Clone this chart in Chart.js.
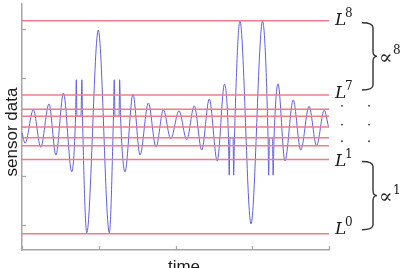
<!DOCTYPE html>
<html>
<head>
<meta charset="utf-8">
<script src="https://cdn.jsdelivr.net/npm/chart.js@4/dist/chart.umd.min.js"></script>
<style>
  html, body { margin: 0; padding: 0; background: #fff; }
  #wrap { width: 415px; height: 268px; overflow: hidden; }
</style>
</head>
<body>
<div id="wrap"><canvas id="chart" width="415" height="268"></canvas></div>
<script>
// signal: peaks, troughs and the clipped spikes
const sigT = [0, 0.20, 0.74, 1.22, 1.76, 2.21, 2.70, 3.24, 3.49, 3.54, 3.58, 3.84, 3.90, 3.94,
    4.22, 4.97, 5.69, 5.96, 6.01, 6.06, 6.32, 6.36, 6.42, 6.71, 7.23, 7.69, 8.23, 8.73,
    9.21, 9.69, 10.23, 10.73, 11.22, 11.71, 12.20, 12.72, 13.19, 13.45, 13.50, 13.55, 13.75,
    13.79, 13.84, 14.20, 14.92, 15.67, 16.03, 16.07, 16.12, 16.32, 16.36, 16.42, 16.68,
    17.13, 17.67, 18.16, 18.70, 19.19, 19.69, 19.97];
const sigV = [-0.12, -0.33, 0.35, -0.41, 0.47, -0.57, 0.69, -0.91, 0.22, 0.96, 0.22, 0.22, 0.96, 0.22,
    -2.15, 1.97, -2.15, 0.22, 0.96, 0.22, 0.22, 0.96, 0.22, -0.91, 0.67, -0.57, 0.49, -0.41,
    0.35, -0.24, 0.33, -0.26, 0.43, -0.47, 0.57, -0.69, 0.87, -0.22, -0.98, -0.22, -0.22,
    -0.98, -0.22, 2.15, -1.97, 2.15, -0.22, -0.98, -0.22, -0.22, -0.98, -0.22, 0.88,
    -0.69, 0.55, -0.47, 0.42, -0.38, 0.34, 0];

// quantisation levels L0 .. L8
const levels = [-2.17, -0.66, -0.38, -0.22, 0, 0.22, 0.36, 0.65, 2.16];

const xTicks = [0, 5, 10, 15, 20];
const yTicks = [-2, -1, 0, 1, 2];
const xLabel = 'time';
const yLabel = 'sensor data';

const axisGrey = '#a6a6a6';
const levelRed = '#ea7f8a';
const sigBlue = '#5f5fe4';

const datasets = levels.map(l => ({
    data: [{ x: xTicks[0], y: l }, { x: xTicks[xTicks.length - 1], y: l }],
    borderColor: levelRed,
    borderWidth: 1.4,
    pointRadius: 0,
    order: 1
}));
datasets.push({
    data: sigT.map((t, i) => ({ x: t, y: sigV[i] })),
    borderColor: sigBlue,
    borderWidth: 1,
    pointRadius: 0,
    cubicInterpolationMode: 'monotone',
    order: 2
});

// inward tick marks, labels, L^k names, braces
const decorations = {
    id: 'decorations',
    afterDraw(chart) {
        const ctx = chart.ctx;
        const xs = chart.scales.x, ys = chart.scales.y;
        const area = chart.chartArea;
        ctx.save();

        ctx.strokeStyle = axisGrey;
        ctx.lineWidth = 1.2;
        xTicks.forEach(t => {
            const px = Math.round(xs.getPixelForValue(t)) + 0.5;
            ctx.beginPath();
            ctx.moveTo(px, area.bottom);
            ctx.lineTo(px, area.bottom - 4);
            ctx.stroke();
        });
        yTicks.forEach(v => {
            const py = Math.round(ys.getPixelForValue(v)) + 0.5;
            ctx.beginPath();
            ctx.moveTo(area.left, py);
            ctx.lineTo(area.left + 4, py);
            ctx.stroke();
        });

        // axis titles
        ctx.fillStyle = '#1a1a1a';
        ctx.font = '17px "Liberation Sans", Arial, sans-serif';
        ctx.textAlign = 'center';
        ctx.textBaseline = 'alphabetic';
        ctx.fillText(xLabel, 184, 272);
        ctx.save();
        ctx.translate(17, (area.top + area.bottom) / 2 + 5);
        ctx.rotate(-Math.PI / 2);
        ctx.fillText(yLabel, 0, 0);
        ctx.restore();

        // level names
        const lx = area.right + 6;
        const named = [[8, 4], [7, 3], [1, 6.5], [0, 0]];
        ctx.textAlign = 'left';
        named.forEach(([k, dy]) => {
            const base = ys.getPixelForValue(levels[k]) + dy;
            ctx.font = 'italic 17px "DejaVu Serif", serif';
            ctx.fillText('L', lx, base);
            ctx.font = '12px "DejaVu Serif", serif';
            ctx.fillText(String(k), lx + 10, base - 8);
        });

        // vertical ellipses
        ctx.fillStyle = '#333';
        [lx + 7, lx + 34].forEach(dx => {
            [0.43, 0.05, -0.29].forEach(v => {
                ctx.beginPath();
                ctx.arc(dx, ys.getPixelForValue(v), 0.9, 0, Math.PI * 2);
                ctx.fill();
            });
        });

        // braces
        function brace(xl, yTop, yBot) {
            const xm = xl + 11, xt = xl + 15, ym = (yTop + yBot) / 2, r = 5;
            ctx.beginPath();
            ctx.moveTo(xl, yTop);
            ctx.quadraticCurveTo(xm, yTop, xm, yTop + r);
            ctx.lineTo(xm, ym - r);
            ctx.quadraticCurveTo(xm, ym, xt, ym);
            ctx.quadraticCurveTo(xm, ym, xm, ym + r);
            ctx.lineTo(xm, yBot - r);
            ctx.quadraticCurveTo(xm, yBot, xl, yBot);
            ctx.stroke();
            return ym;
        }
        ctx.strokeStyle = '#333';
        ctx.lineWidth = 1.4;
        const bx = area.right + 33;
        const m8 = brace(bx, ys.getPixelForValue(levels[8]) + 2, ys.getPixelForValue(levels[7]) - 5);
        const m1 = brace(bx, ys.getPixelForValue(levels[1]) + 2, ys.getPixelForValue(levels[0]) - 4);

        ctx.fillStyle = '#1a1a1a';
        [[8, m8], [1, m1]].forEach(([k, ym]) => {
            ctx.font = '20px "DejaVu Serif", serif';
            ctx.textBaseline = 'middle';
            ctx.fillText('\u221D', bx + 17, ym + 2);
            ctx.font = '12px "DejaVu Serif", serif';
            ctx.fillText(String(k), bx + 31, ym - 5);
        });

        ctx.restore();
    }
};

new Chart(document.getElementById('chart'), {
    type: 'line',
    data: { datasets: datasets },
    options: {
        responsive: false,
        animation: false,
        events: [],
        layout: { padding: { left: 22, right: 86, top: 4, bottom: 18 } },
        plugins: { legend: { display: false }, tooltip: { enabled: false } },
        scales: {
            x: {
                type: 'linear',
                min: xTicks[0],
                max: xTicks[xTicks.length - 1],
                ticks: { display: false },
                grid: { display: false },
                border: { display: true, color: axisGrey, width: 1.5 },
                afterFit(scale) { scale.height = 0; }
            },
            y: {
                type: 'linear',
                min: -2.5,
                max: 2.5,
                ticks: { display: false },
                grid: { display: false },
                border: { display: true, color: axisGrey, width: 1.5 },
                afterFit(scale) { scale.width = 0; }
            }
        }
    },
    plugins: [decorations]
});
</script>
</body>
</html>
